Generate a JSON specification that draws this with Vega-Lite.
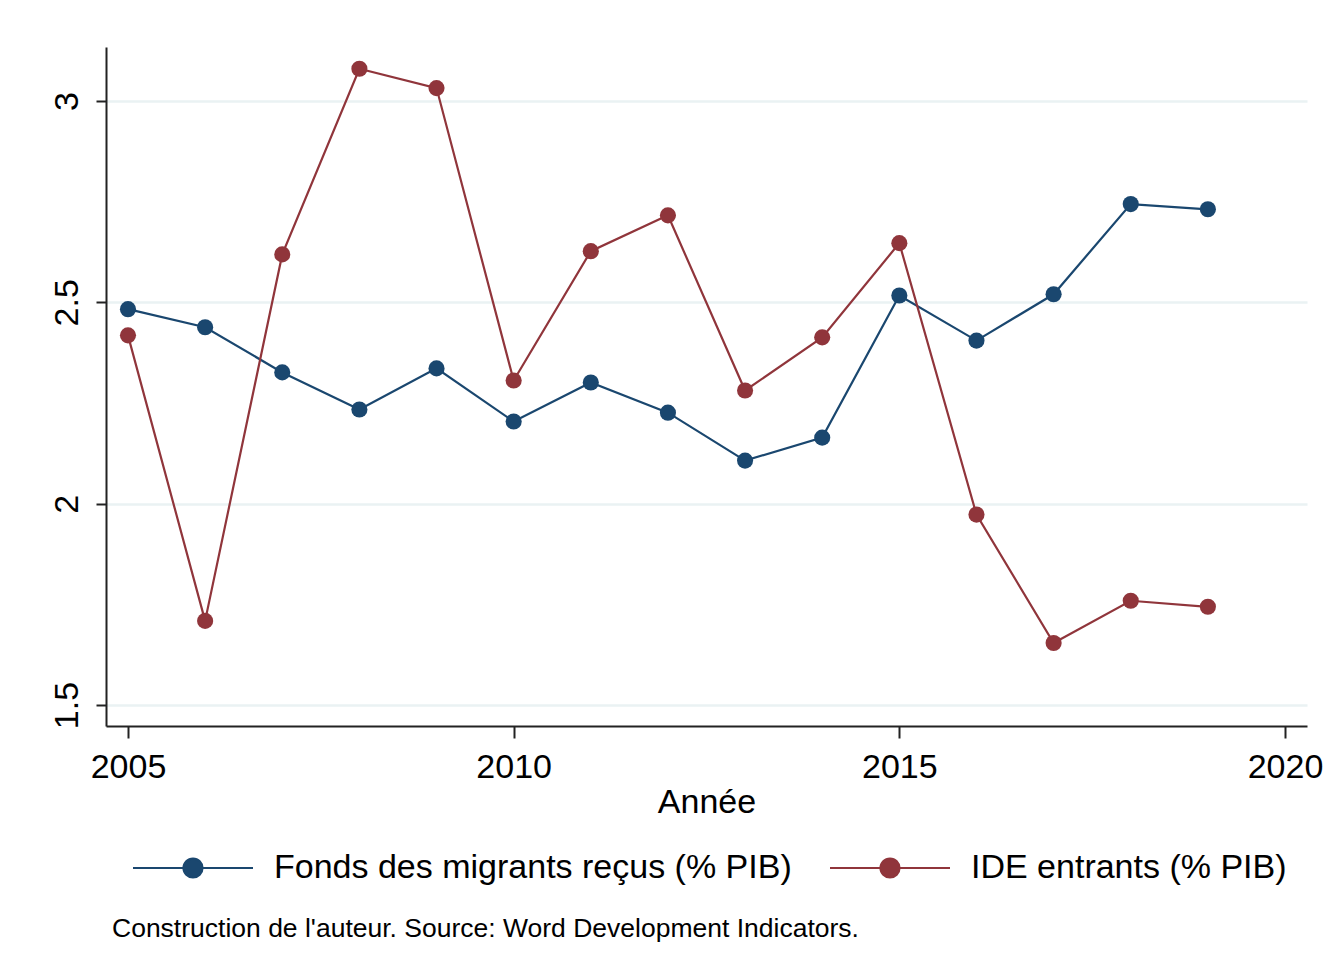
{
  "$schema": "https://vega.github.io/schema/vega-lite/v6.json",
  "width": 1201,
  "height": 679,
  "autosize": {"type": "none"},
  "padding": {"left": 106, "top": 47, "right": 30, "bottom": 250},
  "background": "white",
  "config": {
    "font": "Liberation Sans",
    "view": {"stroke": null}
  },
  "title": {
    "text": "Construction de l'auteur. Source: Word Development Indicators.",
    "orient": "bottom",
    "anchor": "start",
    "frame": "group",
    "fontSize": 26.5,
    "fontWeight": "normal",
    "font": "Liberation Sans",
    "color": "black",
    "dx": 6,
    "offset": 31
  },
  "data": {
    "values": [
      {"annee": 2005, "serie": "Fonds des migrants reçus (% PIB)", "valeur": 2.483},
      {"annee": 2006, "serie": "Fonds des migrants reçus (% PIB)", "valeur": 2.438},
      {"annee": 2007, "serie": "Fonds des migrants reçus (% PIB)", "valeur": 2.326},
      {"annee": 2008, "serie": "Fonds des migrants reçus (% PIB)", "valeur": 2.234},
      {"annee": 2009, "serie": "Fonds des migrants reçus (% PIB)", "valeur": 2.336},
      {"annee": 2010, "serie": "Fonds des migrants reçus (% PIB)", "valeur": 2.204},
      {"annee": 2011, "serie": "Fonds des migrants reçus (% PIB)", "valeur": 2.301},
      {"annee": 2012, "serie": "Fonds des migrants reçus (% PIB)", "valeur": 2.226},
      {"annee": 2013, "serie": "Fonds des migrants reçus (% PIB)", "valeur": 2.107},
      {"annee": 2014, "serie": "Fonds des migrants reçus (% PIB)", "valeur": 2.164},
      {"annee": 2015, "serie": "Fonds des migrants reçus (% PIB)", "valeur": 2.517},
      {"annee": 2016, "serie": "Fonds des migrants reçus (% PIB)", "valeur": 2.405},
      {"annee": 2017, "serie": "Fonds des migrants reçus (% PIB)", "valeur": 2.520},
      {"annee": 2018, "serie": "Fonds des migrants reçus (% PIB)", "valeur": 2.744},
      {"annee": 2019, "serie": "Fonds des migrants reçus (% PIB)", "valeur": 2.731},
      {"annee": 2005, "serie": "IDE entrants (% PIB)", "valeur": 2.418},
      {"annee": 2006, "serie": "IDE entrants (% PIB)", "valeur": 1.709},
      {"annee": 2007, "serie": "IDE entrants (% PIB)", "valeur": 2.619},
      {"annee": 2008, "serie": "IDE entrants (% PIB)", "valeur": 3.080},
      {"annee": 2009, "serie": "IDE entrants (% PIB)", "valeur": 3.032},
      {"annee": 2010, "serie": "IDE entrants (% PIB)", "valeur": 2.306},
      {"annee": 2011, "serie": "IDE entrants (% PIB)", "valeur": 2.627},
      {"annee": 2012, "serie": "IDE entrants (% PIB)", "valeur": 2.716},
      {"annee": 2013, "serie": "IDE entrants (% PIB)", "valeur": 2.281},
      {"annee": 2014, "serie": "IDE entrants (% PIB)", "valeur": 2.413},
      {"annee": 2015, "serie": "IDE entrants (% PIB)", "valeur": 2.647},
      {"annee": 2016, "serie": "IDE entrants (% PIB)", "valeur": 1.973},
      {"annee": 2017, "serie": "IDE entrants (% PIB)", "valeur": 1.654},
      {"annee": 2018, "serie": "IDE entrants (% PIB)", "valeur": 1.759},
      {"annee": 2019, "serie": "IDE entrants (% PIB)", "valeur": 1.744}
    ]
  },
  "encoding": {
    "x": {
      "field": "annee",
      "type": "quantitative",
      "title": "Année",
      "scale": {"domain": [2004.715, 2020.285], "nice": false, "zero": false},
      "axis": {
        "values": [2005, 2010, 2015, 2020],
        "format": "d",
        "grid": false,
        "domainColor": "#222222",
        "domainWidth": 2,
        "tickColor": "#222222",
        "tickWidth": 2,
        "tickSize": 12,
        "labelFontSize": 34,
        "labelColor": "black",
        "labelPadding": 12,
        "labelFlush": false,
        "titleFontSize": 34,
        "titleFontWeight": "normal",
        "titleColor": "black",
        "titlePadding": 1
      }
    },
    "y": {
      "field": "valeur",
      "type": "quantitative",
      "title": null,
      "scale": {"domain": [1.448, 3.134], "nice": false, "zero": false},
      "axis": {
        "values": [1.5, 2, 2.5, 3],
        "format": "~g",
        "grid": true,
        "gridColor": "#eaf2f3",
        "gridWidth": 2.5,
        "domainColor": "#222222",
        "domainWidth": 2,
        "tickColor": "#222222",
        "tickWidth": 2,
        "tickSize": 10,
        "labelFontSize": 34,
        "labelColor": "black",
        "labelAngle": -90,
        "labelAlign": "center",
        "labelBaseline": "bottom",
        "labelPadding": 12,
        "labelFlush": false
      }
    },
    "color": {
      "field": "serie",
      "type": "nominal",
      "title": null,
      "scale": {
        "domain": ["Fonds des migrants reçus (% PIB)", "IDE entrants (% PIB)"],
        "range": ["#1a476f", "#90353b"]
      },
      "legend": {
        "orient": "none",
        "legendX": 26,
        "legendY": 760,
        "direction": "horizontal",
        "columns": 2,
        "columnPadding": 34,
        "symbolType": "M-1,0L1,0M-0.16,0A0.16,0.16,0,1,1,0.16,0A0.16,0.16,0,1,1,-0.16,0Z",
        "symbolSize": 14400,
        "symbolStrokeWidth": 2,
        "labelFontSize": 34,
        "labelColor": "black",
        "labelOffset": 20,
        "labelLimit": 1000,
        "padding": 0,
        "encode": {
          "symbols": {
            "update": {
              "fill": {"scale": "color", "field": "value"},
              "stroke": {"scale": "color", "field": "value"},
              "opacity": {"value": 1}
            }
          }
        }
      }
    }
  },
  "layer": [
    {"mark": {"type": "line", "strokeWidth": 2.2}},
    {"mark": {"type": "point", "filled": true, "size": 260, "opacity": 1}}
  ]
}
